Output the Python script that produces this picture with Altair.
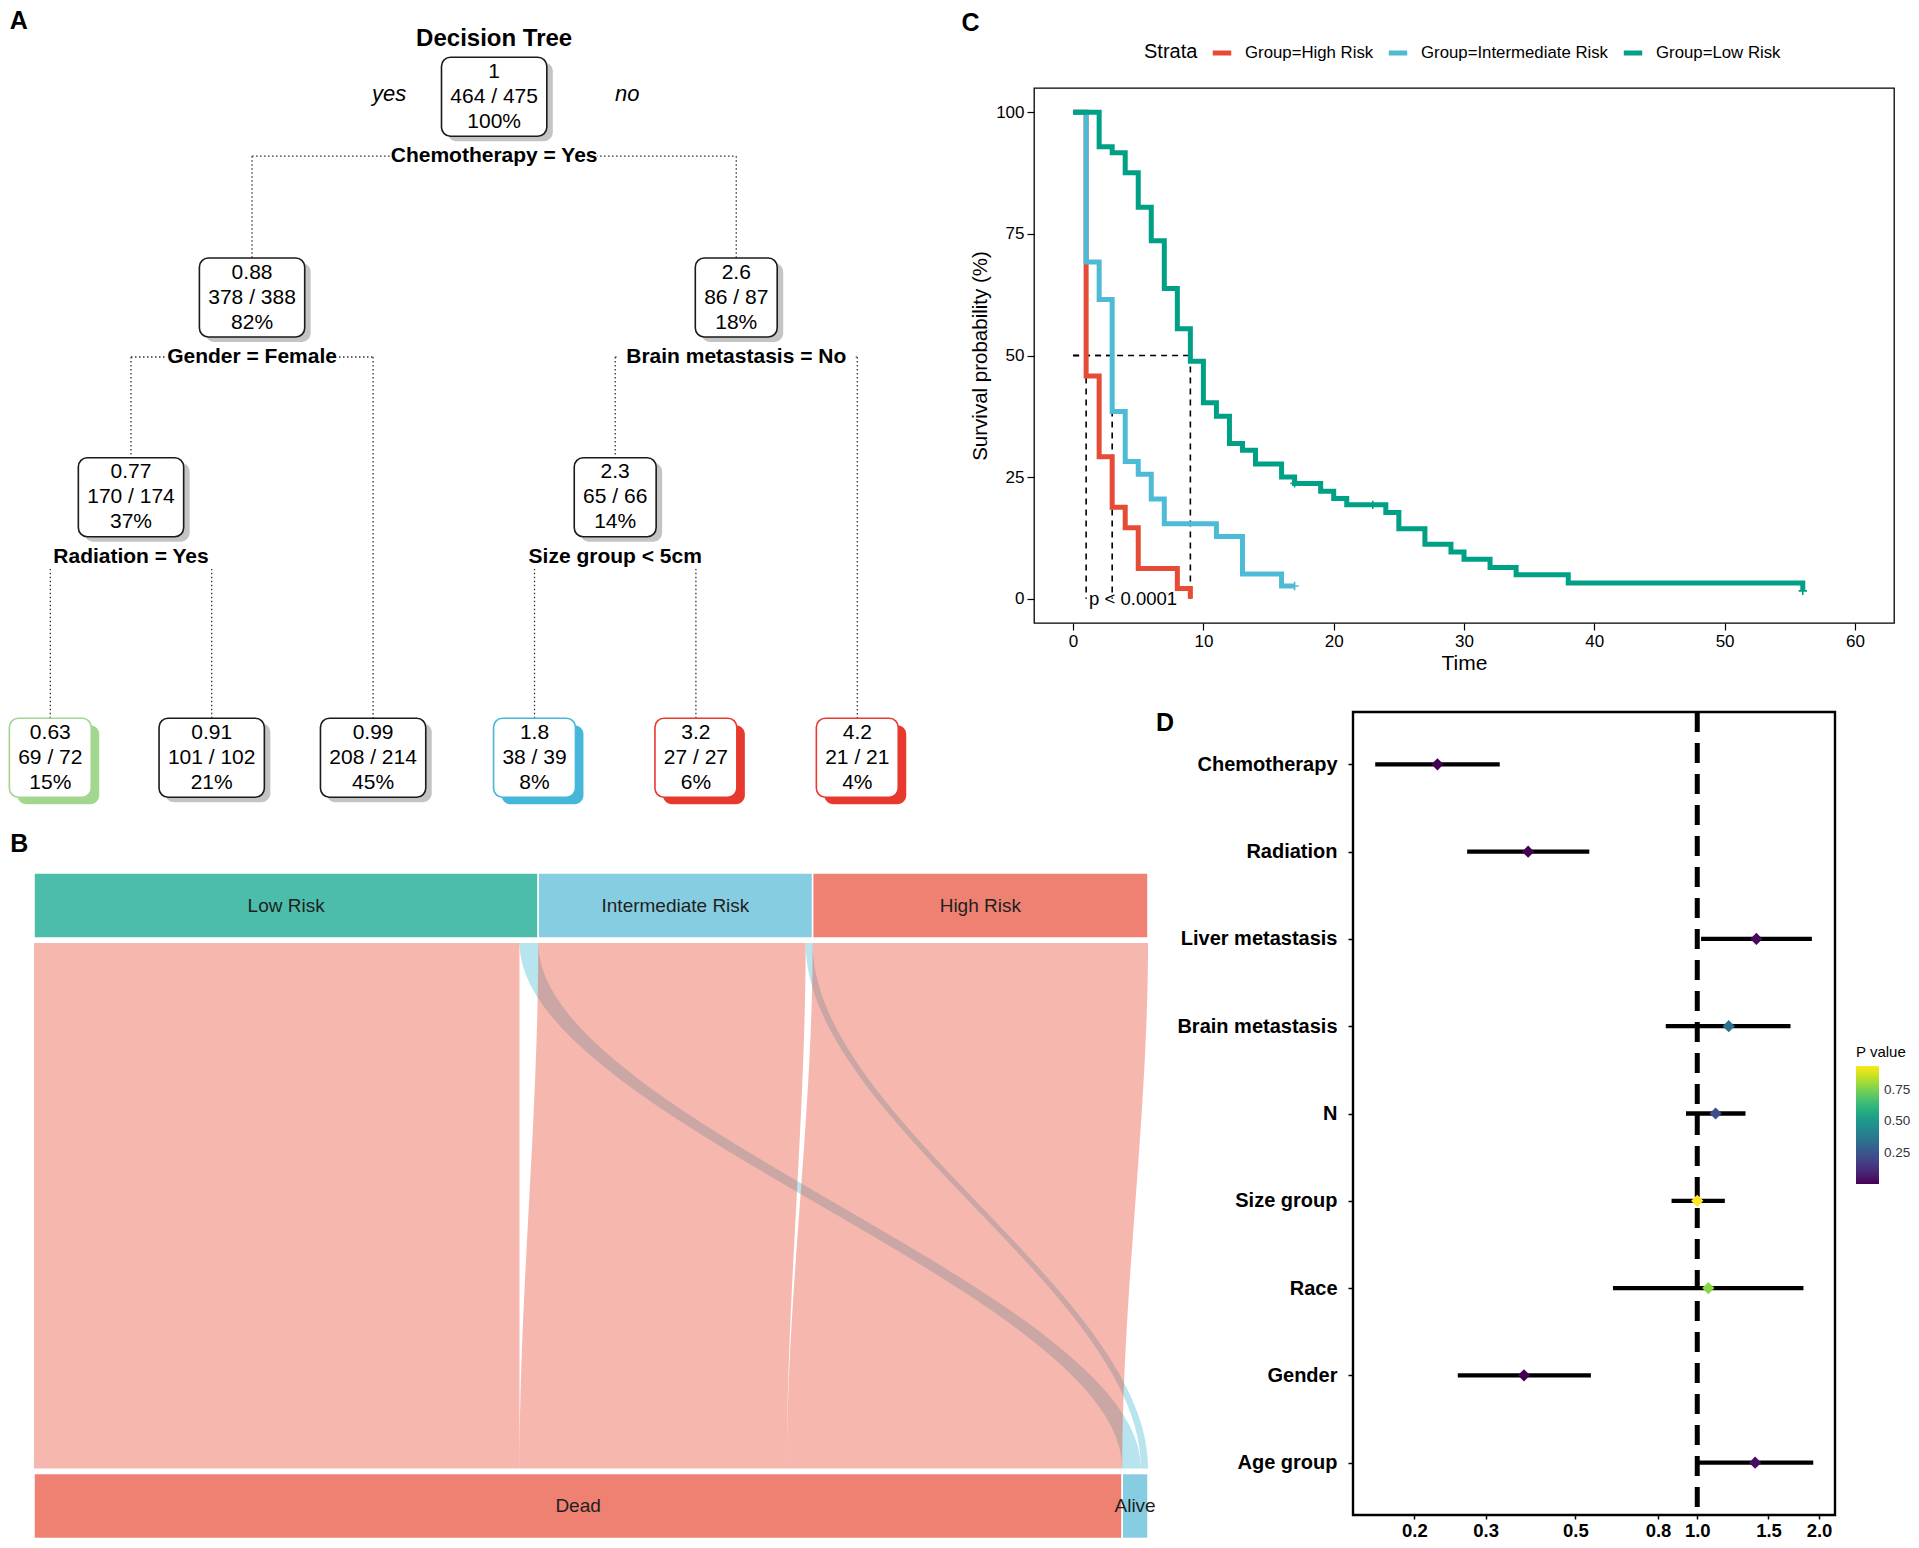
import math
import pandas as pd
import altair as alt

FONT = "Liberation Sans"

# ============================ DATA ============================
# ---- Panel A: regression tree (rpart node numbering) ----
node_id = [1, 2, 4, 8, 9, 5, 3, 6, 12, 13, 7]
node_value = ["1", "0.88", "0.77", "0.63", "0.91", "0.99", "2.6", "2.3", "1.8", "3.2", "4.2"]
node_count = ["464 / 475", "378 / 388", "170 / 174", "69 / 72", "101 / 102", "208 / 214",
              "86 / 87", "65 / 66", "38 / 39", "27 / 27", "21 / 21"]
node_pct = ["100%", "82%", "37%", "15%", "21%", "45%", "18%", "14%", "8%", "6%", "4%"]
node_risk = ["None", "None", "None", "Low", "None", "None", "None", "None",
             "Intermediate", "High", "High"]
split_node = [1, 2, 4, 3, 6]
split_label = ["Chemotherapy = Yes", "Gender = Female", "Radiation = Yes",
               "Brain metastasis = No", "Size group < 5cm"]

# ---- Panel B: alluvial (risk group -> status) ----
risk_groups = ["Low Risk", "Intermediate Risk", "High Risk"]
group_dead = [207, 114, 143]
group_alive = [8, 3, 0]
status_levels = ["Dead", "Alive"]

# ---- Panel C: Kaplan-Meier ----
strata_names = ["Group=High Risk", "Group=Intermediate Risk", "Group=Low Risk"]
strata_colors = ["#E64B35", "#4DBBD5", "#00A087"]
high_time = [0, 1, 2, 3, 4, 5, 8, 9]
high_surv = [100, 45.8, 29.2, 18.8, 14.6, 6.2, 2.1, 0]
inter_time = [0, 1, 2, 3, 4, 5, 6, 7, 11, 13, 16, 17]
inter_surv = [100, 69.2, 61.5, 38.5, 28.2, 25.6, 20.5, 15.4, 12.8, 5.1, 2.6, 2.6]
low_time = [0, 2, 3, 4, 5, 6, 7, 8, 9, 10, 11, 12, 13, 14, 16, 17, 19, 20, 21, 24,
            25, 27, 29, 30, 32, 34, 38, 56]
low_surv = [100, 92.9, 91.7, 87.6, 80.5, 73.6, 63.8, 55.5, 48.8, 40.3, 37.5, 31.9,
            30.5, 27.7, 25.0, 23.7, 22.1, 20.6, 19.3, 17.7, 14.4, 11.2, 9.6, 8.1,
            6.4, 4.9, 3.2, 1.6]
censor_strata = ["Group=Intermediate Risk", "Group=Low Risk", "Group=Low Risk", "Group=Low Risk"]
censor_time = [17, 17, 23, 56]
censor_surv = [2.6, 23.7, 19.3, 1.6]
pval_text = "p < 0.0001"

# ---- Panel D: forest plot ----
forest_var = ["Chemotherapy", "Radiation", "Liver metastasis", "Brain metastasis", "N",
              "Size group", "Race", "Gender", "Age group"]
forest_hr = [0.228, 0.382, 1.40, 1.196, 1.11, 1.00, 1.065, 0.373, 1.39]
forest_lo = [0.160, 0.270, 1.022, 0.836, 0.938, 0.864, 0.619, 0.256, 0.994]
forest_hi = [0.325, 0.541, 1.92, 1.70, 1.316, 1.17, 1.83, 0.546, 1.935]
forest_p = [0.0001, 0.0002, 0.02, 0.35, 0.22, 0.943, 0.78, 0.0001, 0.03]

# ============================ LAYOUT ============================
LEFT_W = 966      # width of panels A / B cells
COL_GAP = 57
TOP_H = 535       # height of A / C cells
ROW_GAP = 89
C_W = 860
D_W = 801
D_H = 803
B_H = 827
D_FRAME_W = 482

# ============================ PANEL A ============================
ids = set(node_id)
is_leaf = {n: (2 * n) not in ids for n in node_id}
leaf_order = []


def walk(n):
    if is_leaf[n]:
        leaf_order.append(n)
    else:
        walk(2 * n)
        walk(2 * n + 1)


walk(1)
xpos = {n: float(i) for i, n in enumerate(leaf_order)}


def place(n):
    if n not in xpos:
        xpos[n] = (place(2 * n) + place(2 * n + 1)) / 2.0
    return xpos[n]


place(1)
inner_depth = {n: int(math.floor(math.log2(n))) for n in node_id}
leaf_level = max(inner_depth[n] for n in node_id if not is_leaf[n]) + 1
level = {n: (leaf_level if is_leaf[n] else inner_depth[n]) for n in node_id}

nodes = pd.DataFrame({
    "id": node_id,
    "x": [xpos[n] for n in node_id],
    "lvl": [level[n] for n in node_id],
    "value": node_value,
    "cnt": node_count,
    "pct": node_pct,
    "risk": node_risk,
})
splits = pd.DataFrame({
    "x": [xpos[p] for p in split_node],
    "lvl": [level[p] for p in split_node],
    "label": split_label,
})
hlines = pd.DataFrame({
    "x": [xpos[2 * p] for p in split_node],
    "x2": [xpos[2 * p + 1] for p in split_node],
    "lvl": [level[p] for p in split_node],
})
vl_rows = []
for p in split_node:
    for c in (2 * p, 2 * p + 1):
        vl_rows.append({"x": xpos[c], "lvl": level[p], "lvl2": level[c]})
vlines = pd.DataFrame(vl_rows)

A_XR = [39.3, 846.3]
A_YR = [8.7, 209.5, 409.3, 669.8]
PXU_A = (A_XR[1] - A_XR[0]) / (len(leaf_order) - 1)
xsA = alt.Scale(domain=[0, len(leaf_order) - 1], range=A_XR, nice=False, zero=False)
ysA = alt.Scale(domain=list(range(leaf_level + 1)), range=A_YR, nice=False, zero=False)


def AX(f):
    return alt.X(f"{f}:Q", scale=xsA, axis=None)


def AY(f):
    return alt.Y(f"{f}:Q", scale=ysA, axis=None)


BOX_HALF = 39.5
LABEL_DY = 59.5
box_hw = f"max(length(datum.value), length(datum.cnt), length(datum.pct)) * 5.85 / {PXU_A:.4f}"
label_hw = f"(length(datum.label) * 5.5 + 4) / {PXU_A:.4f}"

base_nodes = alt.Chart(nodes).transform_calculate(hw=box_hw).transform_calculate(
    bx1="datum.x - datum.hw", bx2="datum.x + datum.hw")

dotted = dict(strokeDash=[1.5, 2.5], strokeWidth=1.3, color="#333333")
a_hline = alt.Chart(hlines).mark_rule(yOffset=LABEL_DY, **dotted).encode(
    x=AX("x"), x2="x2:Q", y=AY("lvl"))
a_vline = alt.Chart(vlines).mark_rule(yOffset=LABEL_DY, y2Offset=-BOX_HALF, **dotted).encode(
    x=AX("x"), y=AY("lvl"), y2="lvl2:Q")
a_lbg = alt.Chart(splits).transform_calculate(hw=label_hw).transform_calculate(
    l1="datum.x - datum.hw", l2="datum.x + datum.hw").mark_rect(
    color="white", yOffset=LABEL_DY - 12, y2Offset=LABEL_DY + 12).encode(
    x=AX("l1"), x2="l2:Q", y=AY("lvl"), y2="lvl:Q")
a_ltext = alt.Chart(splits).mark_text(dy=LABEL_DY, fontSize=21, fontWeight="bold", color="black").encode(
    x=AX("x"), y=AY("lvl"), text="label:N")

sh_gray = base_nodes.transform_filter("datum.risk == 'None'").mark_rect(
    cornerRadius=9, color="#c4c4c4", xOffset=6, x2Offset=6,
    yOffset=-BOX_HALF + 5, y2Offset=BOX_HALF + 5).encode(
    x=AX("bx1"), x2="bx2:Q", y=AY("lvl"), y2="lvl:Q")
risk_dom = ["Low", "Intermediate", "High"]
risk_col = ["#a3d68f", "#45b7da", "#e8392f"]
sh_col = base_nodes.transform_filter("datum.risk != 'None'").mark_rect(
    cornerRadius=9, xOffset=8, x2Offset=8,
    yOffset=-BOX_HALF + 7, y2Offset=BOX_HALF + 7).encode(
    x=AX("bx1"), x2="bx2:Q", y=AY("lvl"), y2="lvl:Q",
    fill=alt.Fill("risk:N", scale=alt.Scale(domain=risk_dom, range=risk_col), legend=None))
a_box = base_nodes.mark_rect(
    cornerRadius=9, fill="white", strokeWidth=1.6,
    yOffset=-BOX_HALF, y2Offset=BOX_HALF).encode(
    x=AX("bx1"), x2="bx2:Q", y=AY("lvl"), y2="lvl:Q",
    stroke=alt.Stroke("risk:N", scale=alt.Scale(domain=["None"] + risk_dom,
                                                range=["#1a1a1a"] + risk_col), legend=None))
a_t1 = alt.Chart(nodes).mark_text(dy=-25, fontSize=21, color="black").encode(
    x=AX("x"), y=AY("lvl"), text="value:N")
a_t2 = alt.Chart(nodes).mark_text(dy=0, fontSize=21, color="black").encode(
    x=AX("x"), y=AY("lvl"), text="cnt:N")
a_t3 = alt.Chart(nodes).mark_text(dy=25, fontSize=21, color="black").encode(
    x=AX("x"), y=AY("lvl"), text="pct:N")

root = alt.Chart(nodes).transform_filter("datum.id == 1")
a_title = root.mark_text(text="Decision Tree", dy=-58, fontSize=24, fontWeight="bold", color="black").encode(
    x=AX("x"), y=AY("lvl"))
a_yes = root.mark_text(text="yes", dx=-105, dy=-3, fontSize=22, fontStyle="italic", color="black").encode(
    x=AX("x"), y=AY("lvl"))
a_no = root.mark_text(text="no", dx=133, dy=-3, fontSize=22, fontStyle="italic", color="black").encode(
    x=AX("x"), y=AY("lvl"))
one = pd.DataFrame({"k": [0]})
a_letter = alt.Chart(one).mark_text(text="A", dx=-31.6, dy=-75.4, fontSize=25, fontWeight="bold", color="black").encode(
    x=alt.XDatum(0, scale=xsA, axis=None), y=alt.YDatum(0, scale=ysA, axis=None))

panel_a = alt.layer(a_hline, a_vline, a_lbg, a_ltext, sh_gray, sh_col, a_box,
                    a_t1, a_t2, a_t3, a_title, a_yes, a_no, a_letter).properties(
    width=LEFT_W, height=TOP_H)

# ============================ PANEL B ============================
strata_rows = []
start = 0
for g, d, a in zip(risk_groups, group_dead, group_alive):
    strata_rows.append({"name": g, "lo": start, "hi": start + d + a, "axis": 0})
    start += d + a
total_n = start
dead_n = sum(group_dead)
strata_rows.append({"name": status_levels[0], "lo": 0, "hi": dead_n, "axis": 1})
strata_rows.append({"name": status_levels[1], "lo": dead_n, "hi": total_n, "axis": 1})
strata = pd.DataFrame(strata_rows)
strata["mid"] = (strata["lo"] + strata["hi"]) / 2

flow_rows = []
pos_top, pos_dead, pos_alive = 0, 0, dead_n
for g, d, a in zip(risk_groups, group_dead, group_alive):
    if d > 0:
        flow_rows.append({"fid": g + "-Dead", "outcome": "Dead", "t_lo": pos_top, "t_hi": pos_top + d,
                          "b_lo": pos_dead, "b_hi": pos_dead + d})
        pos_dead += d
    pos_top += d
    if a > 0:
        flow_rows.append({"fid": g + "-Alive", "outcome": "Alive", "t_lo": pos_top, "t_hi": pos_top + a,
                          "b_lo": pos_alive, "b_hi": pos_alive + a})
        pos_alive += a
    pos_top += a
flows = pd.DataFrame(flow_rows)

B_YR = [193.5, 794.0]
BAR_HALF_B = 32.5
GAP_U = (BAR_HALF_B + 5) / (B_YR[1] - B_YR[0])
xsB = alt.Scale(domain=[0, total_n], range=[23, 1137], nice=False, zero=False)
ysB = alt.Scale(domain=[0, 1], range=B_YR, nice=False, zero=False)

b_ribbon = alt.Chart(flows).transform_calculate(
    t="sequence(0, 1.0001, 0.02)").transform_flatten(["t"]).transform_calculate(
    s="3 * datum.t * datum.t - 2 * datum.t * datum.t * datum.t").transform_calculate(
    xl="datum.t_lo + (datum.b_lo - datum.t_lo) * datum.s",
    xh="datum.t_hi + (datum.b_hi - datum.t_hi) * datum.s",
    yy=f"{GAP_U:.5f} + (1 - 2 * {GAP_U:.5f}) * datum.t").mark_area(
    orient="horizontal", opacity=0.4).encode(
    y=alt.Y("yy:Q", scale=ysB, axis=None),
    x=alt.X("xl:Q", scale=xsB, axis=None, stack=None),
    x2="xh:Q",
    color=alt.Color("outcome:N", scale=alt.Scale(domain=status_levels, range=["#E64B35", "#4DBBD5"]),
                    legend=None),
    detail="fid:N")
strata_dom = risk_groups + status_levels
strata_fill = ["#4CBDAB", "#86CDE1", "#EF8173", "#EF8173", "#86CDE1"]
b_bars = alt.Chart(strata).mark_rect(stroke="white", strokeWidth=1.5,
                                     yOffset=-BAR_HALF_B, y2Offset=BAR_HALF_B).encode(
    x=alt.X("lo:Q", scale=xsB, axis=None), x2="hi:Q",
    y=alt.Y("axis:Q", scale=ysB, axis=None), y2="axis:Q",
    fill=alt.Fill("name:N", scale=alt.Scale(domain=strata_dom, range=strata_fill), legend=None))
b_text = alt.Chart(strata).mark_text(fontSize=19, color="#1f1f1f").encode(
    x=alt.X("mid:Q", scale=xsB, axis=None), y=alt.Y("axis:Q", scale=ysB, axis=None), text="name:N")
b_letter = alt.Chart(one).mark_text(text="B", dx=-14.6, dy=-61.5, fontSize=25, fontWeight="bold", color="black").encode(
    x=alt.XDatum(0, scale=xsB, axis=None), y=alt.YDatum(0, scale=ysB, axis=None))

panel_b = alt.layer(b_ribbon, b_bars, b_text, b_letter).properties(width=LEFT_W, height=B_H)

# ============================ PANEL C ============================
km_rows = []
for g, ts, ss in zip(strata_names, [high_time, inter_time, low_time], [high_surv, inter_surv, low_surv]):
    for t, s in zip(ts, ss):
        km_rows.append({"strata": g, "time": t, "surv": s})
km = pd.DataFrame(km_rows)
MEDIAN_LEVEL = 50
medians = []
for ts, ss in zip([high_time, inter_time, low_time], [high_surv, inter_surv, low_surv]):
    medians.append(next(t for t, s in zip(ts, ss) if s <= MEDIAN_LEVEL))
med_h = pd.DataFrame({"x": [0] * len(medians), "x2": medians, "y": [MEDIAN_LEVEL] * len(medians)})
med_v = pd.DataFrame({"x": medians, "y": [MEDIAN_LEVEL] * len(medians), "y2": [0] * len(medians)})
cens = pd.DataFrame({"strata": censor_strata, "time": censor_time, "surv": censor_surv})

xsC = alt.Scale(domain=[-3, 63], nice=False, zero=False)
ysC = alt.Scale(domain=[-5, 105], nice=False, zero=False)
axis_common = dict(grid=False, domain=False, tickColor="black", tickWidth=1.2, tickSize=7,
                   labelFontSize=17, labelColor="black", titleColor="black",
                   titleFontWeight="normal", labelPadding=3, labelFlush=False, labelOverlap=False)
x_axis_C = alt.Axis(values=list(range(0, 61, 10)), title="Time", titleFontSize=21, titlePadding=3, **axis_common)
y_axis_C = alt.Axis(values=[0, 25, 50, 75, 100], title="Survival probability (%)", titleFontSize=20.5,
                    titlePadding=5, **axis_common)
strata_scale = alt.Scale(domain=strata_names, range=strata_colors)
strata_legend = alt.Legend(
    title="Strata", orient="none", legendX=110, legendY=-47, direction="horizontal",
    titleOrient="left", titleFontSize=20, titleFontWeight="normal", titleColor="black",
    titlePadding=12, labelFontSize=16.8, labelColor="black", labelLimit=0, symbolType="stroke",
    symbolStrokeWidth=5, symbolSize=340, labelOffset=11, columnPadding=4, columns=3)


def CX(f):
    return alt.X(f"{f}:Q", scale=xsC, axis=x_axis_C)


def CY(f):
    return alt.Y(f"{f}:Q", scale=ysC, axis=y_axis_C)


c_med_h = alt.Chart(med_h).mark_rule(strokeDash=[6, 5], strokeWidth=1.6, color="black").encode(
    x=CX("x"), x2="x2:Q", y=CY("y"))
c_med_v = alt.Chart(med_v).mark_rule(strokeDash=[6, 5], strokeWidth=1.6, color="black").encode(
    x=CX("x"), y=CY("y"), y2="y2:Q")
c_lines = []
for g in strata_names:
    c_lines.append(alt.Chart(km).transform_filter(alt.datum.strata == g).mark_line(
        interpolate="step-after", strokeWidth=5).encode(
        x=CX("time"), y=CY("surv"),
        color=alt.Color("strata:N", scale=strata_scale, legend=strata_legend)))
c_cens = alt.Chart(cens).mark_point(shape="M-1,0L1,0M0,-1L0,1", size=70, strokeWidth=1.6, filled=False,
                                    opacity=1).encode(
    x=CX("time"), y=CY("surv"),
    stroke=alt.Stroke("strata:N", scale=alt.Scale(domain=strata_names, range=strata_colors), legend=None))
c_p = alt.Chart(one).mark_text(text=pval_text, align="left", dx=3, fontSize=18.5, color="black").encode(
    x=alt.XDatum(medians[0], scale=xsC, axis=x_axis_C), y=alt.YDatum(0, scale=ysC, axis=y_axis_C))
c_letter = alt.Chart(one).mark_text(text="C", dx=-102.5, dy=-89.7, fontSize=25, fontWeight="bold", color="black").encode(
    x=alt.XDatum(0, scale=xsC, axis=x_axis_C), y=alt.YDatum(100, scale=ysC, axis=y_axis_C))

panel_c = alt.layer(c_med_h, c_med_v, *c_lines, c_cens, c_p, c_letter).properties(
    width=C_W, height=TOP_H, view=alt.ViewBackground(stroke="black", strokeWidth=1.3))

# ============================ PANEL D ============================
forest = pd.DataFrame({"var": forest_var, "hr": forest_hr, "lo": forest_lo, "hi": forest_hi, "p": forest_p})
D_DOM = [0.141, 2.19]
xsD = alt.Scale(type="log", domain=D_DOM, range=[D_W - D_FRAME_W, D_W], nice=False)
ysD = alt.Scale(type="point", domain=forest_var, padding=0.6)
x_axis_D = alt.Axis(values=[0.2, 0.3, 0.5, 0.8, 1.0, 1.5, 2.0], format=".1f", title=None, grid=False,
                    domain=False, tickColor="black", tickWidth=1.5, tickSize=4, labelFontSize=18.5,
                    labelFontWeight="bold", labelColor="black", labelPadding=2, labelFlush=False,
                    labelOverlap=False)
y_axis_D = alt.Axis(title=None, grid=False, domain=False, offset=-(D_W - D_FRAME_W), tickColor="black",
                    tickWidth=1.5, tickSize=5, labelFontSize=20, labelFontWeight="bold",
                    labelColor="black", labelPadding=11)

d_frame = alt.Chart(one).mark_rect(fillOpacity=0, stroke="black", strokeWidth=2.4).encode(
    x=alt.XDatum(D_DOM[0], scale=xsD, axis=x_axis_D), x2=alt.X2Datum(D_DOM[1]),
    y=alt.value(0), y2=alt.value(D_H))
d_err = alt.Chart(forest).mark_rule(strokeWidth=4.3, color="black").encode(
    x=alt.X("lo:Q", scale=xsD, axis=x_axis_D), x2="hi:Q",
    y=alt.Y("var:N", scale=ysD, axis=y_axis_D, sort=None))
d_ref = alt.Chart(one).mark_rule(strokeDash=[20, 11], strokeWidth=5, color="black").encode(
    x=alt.XDatum(1, scale=xsD, axis=x_axis_D))
d_pts = alt.Chart(forest).mark_point(shape="diamond", filled=True, size=150, opacity=1).encode(
    x=alt.X("hr:Q", scale=xsD, axis=x_axis_D),
    y=alt.Y("var:N", scale=ysD, axis=y_axis_D, sort=None),
    color=alt.Color("p:Q", scale=alt.Scale(scheme="viridis", domain=[min(forest_p), max(forest_p)]),
                    legend=alt.Legend(title="P value", orient="none", legendX=822, legendY=333,
                                      direction="vertical", gradientLength=118, gradientThickness=23,
                                      titleFontSize=15, titleFontWeight="normal", titleColor="black",
                                      labelFontSize=13.5, labelColor="#333333", values=[0.25, 0.5, 0.75],
                                      format=".2f", titlePadding=6, labelOffset=5)))
d_letter = alt.Chart(one).mark_text(text="D", dx=-188, dy=-41.4, fontSize=25, fontWeight="bold", color="black").encode(
    x=alt.XDatum(D_DOM[0], scale=xsD, axis=x_axis_D), y=alt.YDatum(forest_var[0], scale=ysD, axis=y_axis_D))

panel_d = alt.layer(d_frame, d_err, d_ref, d_pts, d_letter).properties(width=D_W, height=D_H)

# ============================ ASSEMBLY ============================
chart = alt.concat(panel_a, panel_c, panel_b, panel_d, columns=2, bounds="flush", align="each",
                   spacing={"row": ROW_GAP, "column": COL_GAP}).resolve_scale(
    color="independent", fill="independent", stroke="independent").properties(
    padding={"top": 1, "left": 0, "right": 0, "bottom": 0}).configure(font=FONT).configure_view(stroke=None)

chart.save("out.html", embed_options={"renderer": "svg", "actions": False})
